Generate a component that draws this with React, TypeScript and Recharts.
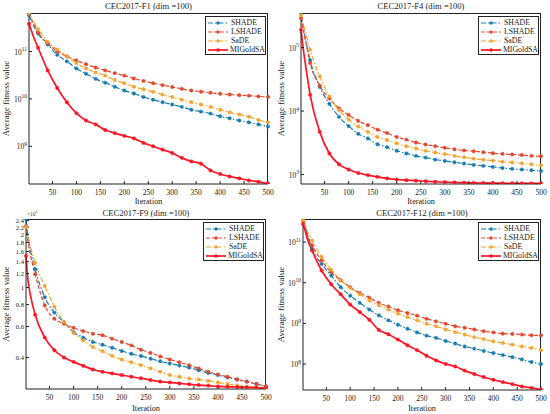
import { LineChart, Line, XAxis, YAxis, Legend } from 'recharts';

const FONT = '"Liberation Serif", "Times New Roman", serif';
const INK = '#222';

const ITER = [1, 5, 10, 20, 40, 60, 80, 100, 120, 140, 160, 180, 200, 220, 240, 260, 280, 300, 320, 340, 360, 380, 400, 420, 440, 460, 480, 500];
const X_TICKS = [50, 100, 150, 200, 250, 300, 350, 400, 450, 500];
const ALGOS = ['SHADE', 'LSHADE', 'SaDE', 'MIGoldSA'];

// CEC2017-F1
const F1_SHADE = [5.9e11, 4.6e11, 3.6e11, 2.4e11, 1.4e11, 8.5e10, 6.2e10, 4.4e10, 3.4e10, 2.65e10, 2.2e10, 1.8e10, 1.5e10, 1.3e10, 1.1e10, 9.6e9, 8.5e9, 7.6e9, 6.8e9, 5.9e9, 5.4e9, 4.9e9, 4.3e9, 3.9e9, 3.5e9, 3.2e9, 2.9e9, 2.6e9];
const F1_LSHADE = [6.4e11, 5.0e11, 4.0e11, 2.5e11, 1.5e11, 1.0e11, 7.9e10, 6.5e10, 5.4e10, 4.6e10, 4.0e10, 3.5e10, 3.1e10, 2.7e10, 2.4e10, 2.15e10, 1.95e10, 1.78e10, 1.63e10, 1.5e10, 1.42e10, 1.35e10, 1.28e10, 1.24e10, 1.2e10, 1.17e10, 1.13e10, 1.1e10];
const F1_SADE = [6.4e11, 5.3e11, 4.3e11, 2.95e11, 1.6e11, 1.1e11, 7.9e10, 5.7e10, 4.4e10, 3.6e10, 3.1e10, 2.5e10, 2.15e10, 1.8e10, 1.6e10, 1.42e10, 1.23e10, 1.1e10, 9.6e9, 8.5e9, 7.6e9, 6.8e9, 5.9e9, 5.2e9, 4.7e9, 4.2e9, 3.6e9, 3.2e9];
const F1_MIGOLDSA = [3.8e11, 2.95e11, 2.1e11, 1.2e11, 4.0e10, 1.7e10, 8.5e9, 5.0e9, 3.5e9, 2.9e9, 2.2e9, 1.9e9, 1.66e9, 1.47e9, 1.18e9, 1.0e9, 8.5e8, 7.2e8, 5.7e8, 4.8e8, 4.3e8, 3.1e8, 2.6e8, 2.3e8, 2.1e8, 1.9e8, 1.78e8, 1.63e8];

// CEC2017-F4
const F4_SHADE = [3.5e5, 2.3e5, 1.4e5, 6.3e4, 2.4e4, 1.3e4, 8.1e3, 5.8e3, 4.4e3, 3.7e3, 3.0e3, 2.7e3, 2.37e3, 2.15e3, 1.97e3, 1.85e3, 1.72e3, 1.64e3, 1.56e3, 1.49e3, 1.42e3, 1.37e3, 1.32e3, 1.27e3, 1.23e3, 1.2e3, 1.17e3, 1.14e3];
const F4_LSHADE = [2.9e5, 2.0e5, 1.32e5, 5.7e4, 2.5e4, 1.58e4, 1.1e4, 8.7e3, 7.0e3, 6.0e3, 5.1e3, 4.5e3, 3.9e3, 3.55e3, 3.2e3, 2.97e3, 2.8e3, 2.64e3, 2.5e3, 2.4e3, 2.33e3, 2.25e3, 2.17e3, 2.12e3, 2.07e3, 2.03e3, 1.97e3, 1.94e3];
const F4_SADE = [3.2e5, 2.4e5, 1.8e5, 9.2e4, 3.5e4, 1.7e4, 1.04e4, 7.4e3, 5.7e3, 4.7e3, 3.9e3, 3.5e3, 3.1e3, 2.8e3, 2.57e3, 2.36e3, 2.22e3, 2.1e3, 1.97e3, 1.87e3, 1.78e3, 1.71e3, 1.66e3, 1.59e3, 1.55e3, 1.5e3, 1.45e3, 1.4e3];
const F4_MIGOLDSA = [1.9e5, 1.04e5, 5.6e4, 1.8e4, 4.7e3, 2.15e3, 1.45e3, 1.2e3, 1.06e3, 980, 920, 870, 835, 815, 800, 785, 770, 760, 752, 745, 740, 735, 732, 730, 728, 727, 726, 725];

// CEC2017-F9
const F9_SHADE = [2.45e5, 2.0e5, 1.64e5, 1.27e5, 0.88e5, 0.72e5, 0.635e5, 0.558e5, 0.519e5, 0.49e5, 0.473e5, 0.455e5, 0.436e5, 0.42e5, 0.408e5, 0.394e5, 0.381e5, 0.37e5, 0.36e5, 0.351e5, 0.339e5, 0.327e5, 0.318e5, 0.308e5, 0.3e5, 0.292e5, 0.283e5, 0.273e5];
const F9_LSHADE = [2.23e5, 1.83e5, 1.54e5, 1.19e5, 0.79e5, 0.664e5, 0.622e5, 0.59e5, 0.565e5, 0.546e5, 0.535e5, 0.512e5, 0.49e5, 0.469e5, 0.443e5, 0.425e5, 0.406e5, 0.39e5, 0.376e5, 0.362e5, 0.347e5, 0.332e5, 0.321e5, 0.311e5, 0.3e5, 0.292e5, 0.283e5, 0.275e5];
const F9_SADE = [2.2e5, 1.96e5, 1.72e5, 1.38e5, 1.02e5, 0.778e5, 0.635e5, 0.551e5, 0.5e5, 0.459e5, 0.434e5, 0.409e5, 0.39e5, 0.376e5, 0.362e5, 0.347e5, 0.332e5, 0.318e5, 0.311e5, 0.304e5, 0.3e5, 0.295e5, 0.289e5, 0.283e5, 0.277e5, 0.273e5, 0.271e5, 0.268e5];
const F9_MIGOLDSA = [1.51e5, 1.11e5, 0.91e5, 0.7e5, 0.519e5, 0.44e5, 0.4e5, 0.378e5, 0.359e5, 0.342e5, 0.332e5, 0.325e5, 0.318e5, 0.311e5, 0.305e5, 0.298e5, 0.292e5, 0.289e5, 0.285e5, 0.282e5, 0.279e5, 0.277e5, 0.274e5, 0.273e5, 0.272e5, 0.271e5, 0.27e5, 0.268e5];

// CEC2017-F12
const F12_SHADE = [3.7e11, 2.6e11, 1.6e11, 6.9e10, 2.9e10, 1.5e10, 7.8e9, 4.8e9, 3.2e9, 2.2e9, 1.58e9, 1.19e9, 9.3e8, 7.4e8, 6.0e8, 5.0e8, 4.4e8, 3.7e8, 3.2e8, 2.7e8, 2.4e8, 2.1e8, 1.87e8, 1.66e8, 1.48e8, 1.3e8, 1.12e8, 1.0e8];
const F12_LSHADE = [3.4e11, 2.4e11, 1.5e11, 8.3e10, 3.5e10, 1.8e10, 1.15e10, 7.8e9, 5.6e9, 4.3e9, 3.2e9, 2.6e9, 2.1e9, 1.8e9, 1.55e9, 1.3e9, 1.12e9, 9.8e8, 8.5e8, 7.8e8, 7.1e8, 6.4e8, 6.0e8, 5.6e8, 5.5e8, 5.3e8, 5.1e8, 5.1e8];
const F12_SADE = [3.5e11, 2.7e11, 1.86e11, 1.1e11, 4.3e10, 2.1e10, 1.18e10, 7.5e9, 5.2e9, 3.7e9, 2.8e9, 2.2e9, 1.74e9, 1.44e9, 1.19e9, 9.8e8, 8.5e8, 7.1e8, 6.1e8, 5.3e8, 4.6e8, 4.1e8, 3.6e8, 3.3e8, 3.0e8, 2.7e8, 2.5e8, 2.2e8];
const F12_MIGOLDSA = [2.8e11, 2.0e11, 1.2e11, 6.2e10, 2.0e10, 9.2e9, 5.2e9, 2.9e9, 1.9e9, 1.23e9, 6.9e8, 5.4e8, 4.0e8, 2.9e8, 2.2e8, 1.6e8, 1.23e8, 1.0e8, 8.7e7, 6.9e7, 5.7e7, 4.8e7, 4.1e7, 3.6e7, 3.2e7, 2.8e7, 2.6e7, 2.35e7];

const STYLE: Record<string, { color: string; dash?: string; width: number }> = {
  SHADE: { color: '#167db0', dash: '5 2 1.5 2', width: 1.2 },
  LSHADE: { color: '#e4472d', dash: '4 2', width: 1.2 },
  SaDE: { color: '#f3a42e', dash: '5 2 1.5 2', width: 1.2 },
  MIGoldSA: { color: '#ff1424', width: 1.7 },
};

const W = 275;
const H = 207;

function YTick({ x, y, payload, mode }: any) {
  const v = payload.value as number;
  if (mode === 'pow') {
    const e = Math.round(Math.log10(v));
    return (
      <text x={x} y={y} dy={3} textAnchor="end" fontSize={7.5} fontFamily={FONT} fill={INK}>
        10<tspan dy={-3.5} fontSize={5.5}>{e}</tspan>
      </text>
    );
  }
  return (
    <text x={x} y={y} dy={2.3} textAnchor="end" fontSize={6.6} fontFamily={FONT} fill={INK}>
      {String(+(v / 1e5).toFixed(1))}
    </text>
  );
}

function markerDot(color: string) {
  return (p: any) => {
    const it = p.payload.iter;
    if (it !== 1 && it % 20 !== 0) return <g key={p.index} />;
    return <circle key={p.index} cx={p.cx} cy={p.cy} r={1.7} fill={color} stroke={color} strokeWidth={0.5} />;
  };
}

function LegendBox() {
  return (
    <div style={{ width: 61, height: 39, border: `1px solid ${INK}`, background: '#fff', boxSizing: 'border-box', padding: '2px 0 0 2px' }}>
      {ALGOS.map((name) => {
        const s = STYLE[name];
        return (
          <div key={name} style={{ display: 'flex', alignItems: 'center', height: 8.8 }}>
            <svg width={21} height={6} style={{ display: 'block' }}>
              <line x1={0} y1={3} x2={20} y2={3} stroke={s.color} strokeWidth={s.width} strokeDasharray={s.dash} />
              <circle cx={10} cy={3} r={1.7} fill={s.color} />
            </svg>
            <span style={{ fontFamily: FONT, fontSize: 7.8, color: INK, marginLeft: 2, lineHeight: '8px' }}>{name}</span>
          </div>
        );
      })}
    </div>
  );
}

type PanelProps = {
  left: number;
  top: number;
  title: string;
  values: number[][];
  domain: [number, number];
  yTicks: number[];
  mode: 'pow' | 'lin';
  box: { l: number; r: number; t: number; b: number };
  note?: boolean;
};

function Panel({ left, top, title, values, domain, yTicks, mode, box, note }: PanelProps) {
  const rows = ITER.map((iter, i) => {
    const row: Record<string, number> = { iter };
    ALGOS.forEach((a, k) => (row[a] = values[k][i]));
    return row;
  });
  const tickStyle = { fontSize: 7.5, fontFamily: FONT, fill: INK };
  return (
    <div style={{ position: 'absolute', left, top, width: W, height: H }}>
      <div style={{ position: 'absolute', left: box.l, width: box.r - box.l, top: 2, textAlign: 'center', fontFamily: FONT, fontSize: 8.6, color: INK, lineHeight: '9px' }}>
        {title}
      </div>
      {note && (
        <div style={{ position: 'absolute', left: box.l + 1, top: 1, fontFamily: FONT, fontSize: 5.5, color: '#444', lineHeight: '7px' }}>
          ×10<sup style={{ fontSize: 4 }}>5</sup>
        </div>
      )}
      {/* closing frame of the axes box, MATLAB "box on" */}
      <div style={{ position: 'absolute', left: box.l, top: box.t, width: box.r - box.l, height: box.b - box.t, borderTop: `1px solid ${INK}`, borderRight: `1px solid ${INK}`, boxSizing: 'border-box', pointerEvents: 'none' }} />
      <LineChart width={W} height={H} data={rows} margin={{ top: box.t, right: W - box.r, left: 0, bottom: 0 }}>
        <XAxis
          dataKey="iter"
          type="number"
          domain={[1, 500]}
          ticks={X_TICKS}
          height={H - box.b}
          tickSize={-3}
          tickMargin={9}
          stroke={INK}
          tick={tickStyle}
          interval={0}
          label={{ value: 'Iteration', position: 'insideBottom', offset: 3, style: { fontSize: 8.2, fontFamily: FONT, fill: INK } }}
        />
        <YAxis
          scale="log"
          type="number"
          domain={domain}
          allowDataOverflow
          ticks={yTicks}
          interval={0}
          width={box.l}
          tickSize={-3}
          tickMargin={5}
          stroke={INK}
          tick={<YTick mode={mode} />}
          label={{ value: 'Average fitness value', angle: -90, position: 'insideLeft', offset: 5.5, style: { textAnchor: 'middle', fontSize: 8.8, fontFamily: FONT, fill: INK } }}
        />
        {ALGOS.map((a) => (
          <Line
            key={a}
            dataKey={a}
            type="monotone"
            stroke={STYLE[a].color}
            strokeWidth={STYLE[a].width}
            strokeDasharray={STYLE[a].dash}
            dot={markerDot(STYLE[a].color)}
            isAnimationActive={false}
          />
        ))}
        <Legend layout="vertical" align="center" verticalAlign="middle" content={() => <LegendBox />} wrapperStyle={{ left: box.r - 63, top: box.t + 3, width: 61 }} />
      </LineChart>
    </div>
  );
}

export default function App() {
  return (
    <div style={{ position: 'absolute', left: 0, top: 0, width: 550, height: 414, background: '#fff' }}>
      <Panel
        left={0}
        top={0}
        title="CEC2017-F1 (dim =100)"
        values={[F1_SHADE, F1_LSHADE, F1_SADE, F1_MIGOLDSA]}
        domain={[1.6e8, 6.5e11]}
        yTicks={[1e9, 1e10, 1e11]}
        mode="pow"
        box={{ l: 29, r: 268, t: 13, b: 184 }}
      />
      <Panel
        left={275}
        top={0}
        title="CEC2017-F4 (dim =100)"
        values={[F4_SHADE, F4_LSHADE, F4_SADE, F4_MIGOLDSA]}
        domain={[710, 3.5e5]}
        yTicks={[1e3, 1e4, 1e5]}
        mode="pow"
        box={{ l: 26, r: 266, t: 13, b: 184 }}
      />
      <Panel
        left={0}
        top={207}
        title="CEC2017-F9 (dim =100)"
        values={[F9_SHADE, F9_LSHADE, F9_SADE, F9_MIGOLDSA]}
        domain={[0.265e5, 2.45e5]}
        yTicks={[0.4e5, 0.6e5, 0.8e5, 1e5, 1.2e5, 1.4e5, 1.6e5, 1.8e5, 2e5, 2.2e5, 2.4e5]}
        mode="lin"
        box={{ l: 26, r: 266, t: 12, b: 182 }}
        note
      />
      <Panel
        left={275}
        top={207}
        title="CEC2017-F12 (dim =100)"
        values={[F12_SHADE, F12_LSHADE, F12_SADE, F12_MIGOLDSA]}
        domain={[2.3e7, 3.7e11]}
        yTicks={[1e8, 1e9, 1e10, 1e11]}
        mode="pow"
        box={{ l: 28, r: 266, t: 12, b: 183 }}
      />
    </div>
  );
}
